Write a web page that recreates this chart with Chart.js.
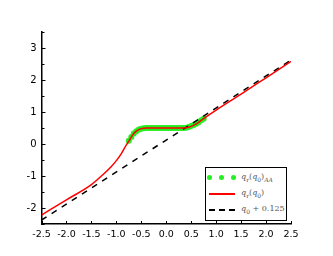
<!DOCTYPE html>
<html lang="en">
<head>
    <meta charset="UTF-8">
    <title>q_r(q_0)</title>
    <style>
        body { margin: 0; background: #fff; }
        .wrap { position: relative; width: 333px; height: 256px; }
        .legend {
            position: absolute; left: 205px; top: 167px; width: 80px; height: 52px;
            border: 1.5px solid #000; background: #fff;
            font-family: "DejaVu Serif", serif; font-size: 8px; color: #555;
        }
        .row { position: absolute; left: 0; height: 14px; width: 80px; }
        .row .txt { position: absolute; left: 35px; top: 1px; white-space: nowrap; }
        .row sub { font-size: 6px; }
        .dot { position: absolute; width: 5px; height: 5px; border-radius: 50%; background: #22ee22; top: 4px; }
        .red { position: absolute; left: 3px; width: 26px; top: 6px; height: 2px; background: #f00; }
        .dash { position: absolute; left: 3px; width: 26px; top: 6px; border-top: 2px dashed #000; }
    </style>
</head>
<body>
<div class="wrap">
    <canvas id="chart" width="333" height="256"></canvas>
    <div class="legend">
        <div class="row" style="top:3px">
            <span class="dot" style="left:1px"></span><span class="dot" style="left:13px"></span><span class="dot" style="left:25px"></span>
            <span class="txt"><i>q</i><sub>r</sub>(<i>q</i><sub>0</sub>)<sub><i>AA</i></sub></span>
        </div>
        <div class="row" style="top:19px">
            <span class="red"></span>
            <span class="txt"><i>q</i><sub>r</sub>(<i>q</i><sub>0</sub>)</span>
        </div>
        <div class="row" style="top:35px">
            <span class="dash"></span>
            <span class="txt"><i>q</i><sub>0</sub> + 0.125</span>
        </div>
    </div>
</div>
<script src="https://cdn.jsdelivr.net/npm/chart.js"></script>
<script>
    // red curve q_r(q_0)
    const q0Red = [-2.5, -2.0, -1.5, -1.25, -1.1, -1.0, -0.9, -0.8, -0.75, -0.7, -0.65, -0.6, -0.55, -0.5, -0.4, -0.2, 0, 0.2, 0.4, 0.5, 0.6, 0.7, 0.8, 1.0, 1.5, 2.0, 2.5];
    const qrRed = [-2.22, -1.745, -1.27, -0.93, -0.70, -0.52, -0.30, -0.03, 0.09, 0.22, 0.33, 0.40, 0.45, 0.48, 0.50, 0.50, 0.50, 0.50, 0.51, 0.55, 0.63, 0.74, 0.85, 1.06, 1.56, 2.07, 2.58];

    // green points q_r(q_0)_AA
    const q0Green = [-0.75, -0.7, -0.65, -0.6, -0.55, -0.5, -0.45, -0.4, -0.35, -0.3, -0.25, -0.2, -0.15, -0.1, -0.05, 0, 0.05, 0.1, 0.15, 0.2, 0.25, 0.3, 0.35, 0.4, 0.45, 0.5, 0.55, 0.6, 0.65, 0.7, 0.75];
    const qrGreen = [0.10, 0.22, 0.33, 0.40, 0.45, 0.48, 0.49, 0.50, 0.50, 0.50, 0.50, 0.50, 0.50, 0.50, 0.50, 0.50, 0.50, 0.50, 0.50, 0.50, 0.50, 0.50, 0.50, 0.51, 0.53, 0.56, 0.59, 0.63, 0.68, 0.74, 0.79];

    // dashed line q_0 + 0.125
    const q0Dash = [-2.5, 2.5];
    const qDash = [-2.375, 2.625];

    const xTicks = [-2.5, -2.0, -1.5, -1.0, -0.5, 0.0, 0.5, 1.0, 1.5, 2.0, 2.5];
    const yMin = -2.5, yMax = 3.5;

    const pts = (xs, ys) => xs.map((x, i) => ({ x: x, y: ys[i] }));

    // small inward tick marks like the original plot
    const innerTicks = {
        id: 'innerTicks',
        afterDraw(chart) {
            const c = chart.ctx, xs = chart.scales.x, ys = chart.scales.y;
            c.save();
            c.strokeStyle = '#000';
            c.lineWidth = 1;
            for (let v = yMin; v <= yMax + 1e-9; v += 0.5) {
                const p = Math.round(ys.getPixelForValue(v)) + 0.5;
                const len = Number.isInteger(v) ? 4 : 3;
                c.beginPath(); c.moveTo(xs.left, p); c.lineTo(xs.left + len, p); c.stroke();
            }
            xTicks.forEach(v => {
                const p = Math.round(xs.getPixelForValue(v)) + 0.5;
                c.beginPath(); c.moveTo(p, ys.bottom); c.lineTo(p, ys.bottom - 3); c.stroke();
            });
            c.restore();
        }
    };

    new Chart(document.getElementById('chart'), {
        type: 'scatter',
        data: {
            datasets: [
                { label: 'AA', data: pts(q0Green, qrGreen), showLine: false, pointRadius: 3,
                  pointBackgroundColor: '#22ee22', pointBorderWidth: 0, order: 3 },
                { label: 'qr', data: pts(q0Red, qrRed), showLine: true, borderColor: '#ff0000',
                  borderWidth: 1.5, pointRadius: 0, cubicInterpolationMode: 'monotone', order: 1 },
                { label: 'dash', data: pts(q0Dash, qDash), showLine: true, borderColor: '#000',
                  borderWidth: 1.5, borderDash: [6, 6], pointRadius: 0, order: 2 }
            ]
        },
        options: {
            responsive: false,
            animation: false,
            layout: { padding: { top: 32, right: 42, left: 0, bottom: 0 } },
            plugins: { legend: { display: false }, tooltip: { enabled: false } },
            scales: {
                x: {
                    type: 'linear', min: -2.5, max: 2.5,
                    afterBuildTicks: s => { s.ticks = xTicks.map(v => ({ value: v })); },
                    afterFit: s => { s.height = 32; },
                    grid: { drawOnChartArea: false, drawTicks: false },
                    border: { color: '#000', width: 1.5 },
                    ticks: { autoSkip: false, maxRotation: 0, padding: 5, color: '#000',
                             font: { family: 'DejaVu Sans', size: 9.5 },
                             callback: v => v.toFixed(1) }
                },
                y: {
                    min: yMin, max: yMax,
                    afterFit: s => { s.width = 41.5; },
                    grid: { drawOnChartArea: false, drawTicks: false },
                    border: { color: '#000', width: 1.5 },
                    ticks: { stepSize: 0.5, autoSkip: false, padding: 5, color: '#000',
                             font: { family: 'DejaVu Sans', size: 10 },
                             callback: v => Number.isInteger(v) && v < 3.5 ? String(v) : '' }
                }
            }
        },
        plugins: [innerTicks]
    });
</script>
</body>
</html>
